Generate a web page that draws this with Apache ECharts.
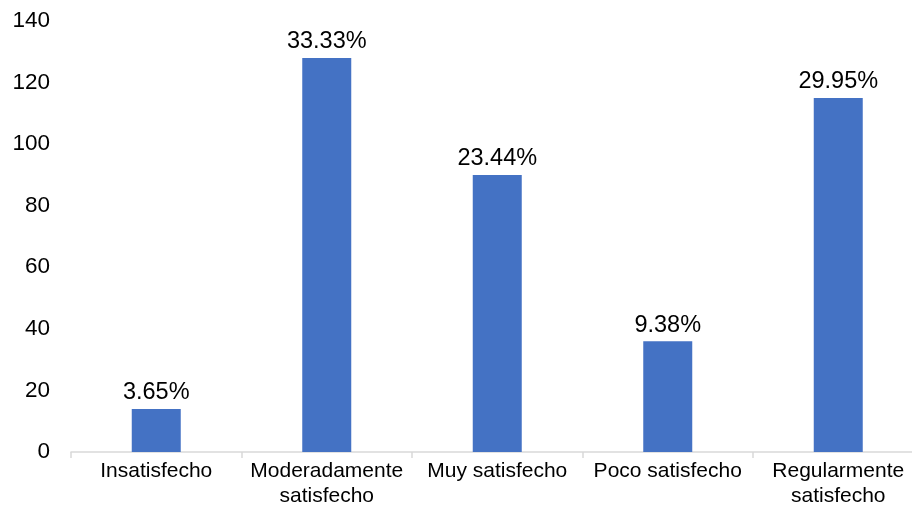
<!DOCTYPE html>
<html><head><meta charset="utf-8">
<script src="https://cdn.jsdelivr.net/npm/echarts@6/dist/echarts.min.js"></script>
<style>html,body{margin:0;padding:0;background:#fff;overflow:hidden}#c{width:912px;height:508px}</style>
</head><body><div id="c"></div>
<script>
const categories = ['Insatisfecho', 'Moderadamente\nsatisfecho', 'Muy satisfecho', 'Poco satisfecho', 'Regularmente\nsatisfecho'];
const values = [14, 128, 90, 36, 115];
const percentLabels = ['3.65%', '33.33%', '23.44%', '9.38%', '29.95%'];
const yTicks = [0, 20, 40, 60, 80, 100, 120, 140];

const chart = echarts.init(document.getElementById('c'));
chart.setOption({
  animation: false,
  grid: { left: 71, right: -11.5, top: 21, bottom: 56, containLabel: false, outerBoundsMode: 'none' },
  xAxis: {
    type: 'category', data: categories,
    axisLine: { lineStyle: { color: '#d9d9d9', width: 1.5 } },
    axisTick: { show: true, length: 6, lineStyle: { color: '#d9d9d9', width: 1.5 } },
    axisLabel: { color: '#000', fontFamily: 'Liberation Sans', fontSize: 21, lineHeight: 24.5, margin: 7, interval: 0 }
  },
  yAxis: {
    type: 'value', min: yTicks[0], max: yTicks[yTicks.length - 1], interval: 20,
    splitLine: { show: false },
    axisLine: { show: false }, axisTick: { show: false },
    axisLabel: { color: '#000', fontFamily: 'Liberation Sans', fontSize: 22.5, margin: 21 }
  },
  series: [{
    type: 'bar', data: values, barWidth: 49,
    itemStyle: { color: '#4472C4' },
    label: {
      show: true, position: 'top', distance: 4,
      color: '#000', fontFamily: 'Liberation Sans', fontSize: 23.5,
      formatter: p => percentLabels[p.dataIndex]
    }
  }]
});
</script></body></html>
